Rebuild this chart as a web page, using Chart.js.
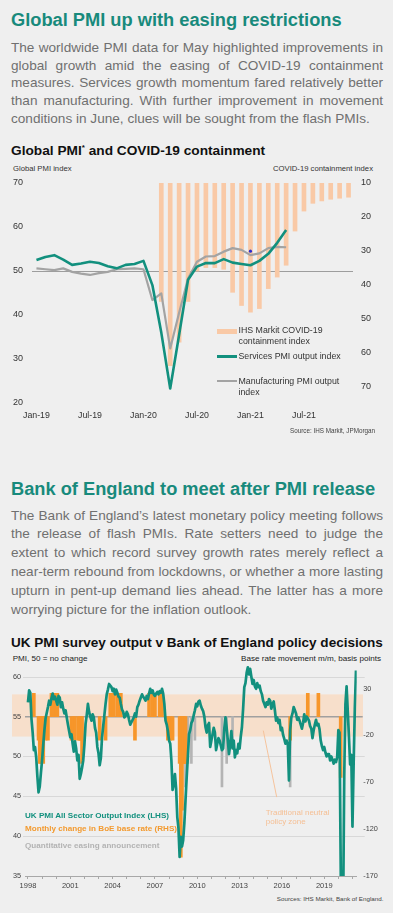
<!DOCTYPE html>
<html>
<head>
<meta charset="utf-8">
<script src="https://cdn.jsdelivr.net/npm/chart.js@4/dist/chart.umd.min.js"></script>
<style>
html,body{margin:0;padding:0;}
body{width:393px;height:913px;background:#efefef;position:relative;overflow:hidden;font-family:"Liberation Sans",Arial,Helvetica,sans-serif;}
.t{position:absolute;white-space:nowrap;}
.title{left:11px;font-weight:bold;font-size:18.25px;line-height:22px;color:#188a7c;}
.para{position:absolute;left:11px;width:372px;font-size:13.6px;color:#707070;}
.para .j{text-align:justify;text-align-last:justify;}
.ctitle{left:11px;font-weight:bold;font-size:13.7px;line-height:16px;color:#111;}
.ctitle sup{font-size:8px;vertical-align:5px;line-height:0;}
.sm{font-size:7.7px;line-height:10px;color:#333;}
.lg{font-size:8.8px;line-height:11px;color:#333;}
.lg2{font-size:8.1px;line-height:10px;font-weight:bold;}
canvas{position:absolute;left:0;}
.sym{position:absolute;}
</style>
</head>
<body>

<div class="t title" style="top:8.5px">Global PMI up with easing restrictions</div>
<div class="para" style="top:38.8px;line-height:17.85px">
  <div class="j">The worldwide PMI data for May highlighted improvements in</div>
  <div class="j">global growth amid the easing of COVID-19 containment</div>
  <div class="j">measures. Services growth momentum fared relatively better</div>
  <div class="j">than manufacturing. With further improvement in movement</div>
  <div>conditions in June, clues will be sought from the flash PMIs.</div>
</div>

<div class="t ctitle" style="top:142.7px">Global PMI<sup>*</sup> and COVID-19 containment</div>
<div class="t sm" style="left:13px;top:164.3px">Global PMI index</div>
<div class="t sm" style="right:20px;top:164.3px">COVID-19 containment index</div>

<canvas id="c1" width="393" height="265" style="top:160px"></canvas>

<div class="sym" style="left:217px;top:328.5px;width:20px;height:5px;background:#f9c9a6"></div>
<div class="t lg" style="left:238.5px;top:325px">IHS Markit COVID-19</div>
<div class="t lg" style="left:238.5px;top:336px">containment index</div>
<div class="sym" style="left:217px;top:355px;width:20px;height:2.5px;background:#12907e"></div>
<div class="t lg" style="left:238.5px;top:350.5px">Services PMI output index</div>
<div class="sym" style="left:217px;top:379.8px;width:20px;height:2.2px;background:#a3a3a3"></div>
<div class="t lg" style="left:238.5px;top:375.5px">Manufacturing PMI output</div>
<div class="t lg" style="left:238.5px;top:386.5px">index</div>
<div class="t" style="right:18px;top:427px;font-size:6.3px;line-height:8px;color:#444">Source: IHS Markit, JPMorgan</div>

<div class="t title" style="top:477.5px">Bank of England to meet after PMI release</div>
<div class="para" style="top:506.5px;line-height:18.95px">
  <div class="j">The Bank of England’s latest monetary policy meeting follows</div>
  <div class="j">the release of flash PMIs. Rate setters need to judge the</div>
  <div class="j">extent to which record survey growth rates merely reflect a</div>
  <div class="j">near-term rebound from lockdowns, or whether a more lasting</div>
  <div class="j">upturn in pent-up demand lies ahead. The latter has a more</div>
  <div>worrying picture for the inflation outlook.</div>
</div>

<div class="t ctitle" style="top:634.7px;font-size:13.55px">UK PMI survey output v Bank of England policy decisions</div>
<div class="t" style="left:12.7px;top:654.3px;font-size:8.1px;line-height:10px;color:#222">PMI, 50 = no change</div>
<div class="t" style="right:12px;top:654.3px;font-size:8.1px;line-height:10px;color:#222">Base rate movement m/m, basis points</div>

<canvas id="c2" width="393" height="245" style="top:650px"></canvas>

<div class="t lg2" style="left:25px;top:811px;color:#12907e">UK PMI All Sector Output Index (LHS)</div>
<div class="t lg2" style="left:25px;top:824.3px;color:#f39a2f">Monthly change in BoE base rate (RHS)</div>
<div class="t lg2" style="left:25px;top:841px;color:#b3b3b3">Quantitative easing announcement</div>
<div class="t" style="left:265.7px;top:807.5px;font-size:8px;line-height:9px;color:#f5bf94">Traditional neutral</div>
<div class="t" style="left:265.7px;top:816.5px;font-size:8px;line-height:9px;color:#f5bf94">policy zone</div>
<div class="t" style="right:9.5px;top:895.3px;font-size:6.25px;line-height:8px;color:#444">Sources: IHS Markit, Bank of England.</div>

<script>
// ================= DATA: chart 1 (global PMI vs COVID-19 containment) =================
const months1 = ['Jan-19','Feb-19','Mar-19','Apr-19','May-19','Jun-19','Jul-19','Aug-19','Sep-19','Oct-19','Nov-19','Dec-19',
                 'Jan-20','Feb-20','Mar-20','Apr-20','May-20','Jun-20','Jul-20','Aug-20','Sep-20','Oct-20','Nov-20','Dec-20',
                 'Jan-21','Feb-21','Mar-21','Apr-21','May-21','Jun-21','Jul-21','Aug-21','Sep-21','Oct-21','Nov-21','Dec-21'];
const servicesPMI = [52.5,53.2,53.6,52.6,51.4,51.7,52.1,51.8,51.1,50.6,51.4,51.6,
                     52.3,46.8,36.0,23.3,35.5,48.0,51.0,51.8,51.8,52.7,51.9,51.6,
                     51.3,52.3,53.9,56.4,59.3,null,null,null,null,null,null,null];
const manufacturingPMI = [50.6,50.4,50.2,50.6,49.8,49.4,49.1,49.5,49.8,50.4,50.5,50.6,
                          50.4,43.4,44.9,32.4,40.5,48.3,52.1,53.3,53.4,54.4,55.2,54.8,
                          53.6,54.0,55.2,55.5,55.4,null,null,null,null,null,null,null];
const containmentIndex = [null,null,null,null,null,null,null,null,null,null,null,null,
                          null,null,45,64,57,45,36,35,35,35.5,42.3,46.2,
                          48.2,47.1,41.2,37.8,34.3,24.2,18.3,16.0,15.3,14.8,14.5,14.2];
const pointMarker = [null,null,null,null,null,null,null,null,null,null,null,null,
                     null,null,null,null,null,null,null,null,null,null,null,null,
                     54.5,null,null,null,null,null,null,null,null,null,null,null];
const pmiTicks1 = [20,30,40,50,60,70];
const containmentTicks = [10,20,30,40,50,60,70];
const containmentAxisRange = [10,75];
const pmiReferenceLevel = 50;

// ================= DATA: chart 2 (UK PMI vs BoE decisions) =================
const ukPmiStart = '1998-01';
const ukPmiAllSector = [
 56.8,58.3,58.0,54.7,53.0,50.8,51.2,49.9,47.5,45.5,46.2,47.9, // 1998
 49.5,51.5,53.3,54.8,55.5,56.2,57.0,56.5,57.3,57.9,57.2,57.5, // 1999
 57.0,56.5,57.6,57.4,56.2,56.8,56.0,55.4,55.8,54.9,54.0,53.2, // 2000
 52.4,52.8,51.6,50.6,51.9,51.0,49.5,50.2,47.2,47.8,48.6,49.5, // 2001
 51.5,54.1,55.2,56.6,55.6,55.0,54.5,55.3,54.9,53.6,53.0,51.2, // 2002
 50.4,48.9,49.8,52.4,53.8,55.2,56.6,57.8,58.4,59.1,58.9,58.7, // 2003
 58.2,58.5,57.8,58.4,58.0,57.5,57.4,56.6,55.9,55.6,54.9,55.1, // 2004
 55.6,55.3,54.6,54.0,54.3,54.6,54.9,55.4,55.0,56.2,56.5,57.0, // 2005
 57.4,57.8,57.5,57.3,57.0,57.6,57.2,57.9,58.5,58.0,58.3,57.8, // 2006
 57.6,57.9,58.1,57.8,58.2,58.0,58.5,57.9,56.6,54.5,54.0,53.2, // 2007
 52.0,51.6,49.5,45.8,46.5,47.8,46.0,42.4,41.0,37.4,39.9,38.7, // 2008
 39.5,41.6,44.5,47.4,50.0,52.8,53.3,54.2,54.5,55.2,55.8,56.6, // 2009
 56.3,56.9,57.0,56.4,56.0,55.7,55.0,53.7,53.0,53.9,54.2,51.2, // 2010
 52.0,52.8,53.6,53.0,50.8,51.6,52.3,52.0,51.4,50.8,51.0,53.5, // 2011
 54.9,53.6,52.0,50.3,51.5,53.2,51.0,52.0,49.9,50.8,50.4,51.6, // 2012
 51.0,52.5,53.7,56.0,58.7,59.2,60.5,61.2,60.3,61.0,60.0,59.1, // 2013
 59.6,58.8,58.5,59.2,58.7,58.9,58.2,57.8,57.0,56.6,56.2,56.8, // 2014
 56.5,57.2,57.0,56.0,56.6,56.9,55.8,54.5,54.9,54.2,54.6,53.3, // 2015
 53.6,52.7,52.2,51.6,52.0,51.5,47.0,53.3,54.9,55.4,56.2,55.8, // 2016
 55.4,54.6,54.9,54.5,54.0,53.5,54.2,55.3,54.4,55.0,54.8,54.5, // 2017
 53.8,53.5,52.3,53.3,54.0,54.6,53.9,54.1,53.4,52.0,51.3,50.8, // 2018
 51.2,50.5,50.0,50.3,50.3,49.5,50.0,49.6,49.1,49.6,49.3,49.9, // 2019
 53.3,53.0,36.2,13.8,29.5,47.5,56.5,58.8,55.7,52.5,49.0,50.2, // 2020
 41.2,49.1,56.0,60.8                                          // 2021
];
const rateChangeMonths = ['1998-06','1998-10','1998-11','1998-12','1999-01','1999-02','1999-04','1999-06','1999-09','1999-11',
  '2000-01','2000-02','2001-02','2001-04','2001-05','2001-08','2001-09','2001-10','2001-11','2003-02','2003-07','2003-11',
  '2004-02','2004-05','2004-06','2004-08','2005-08','2006-08','2006-11','2007-01','2007-05','2007-07','2007-12','2008-02',
  '2008-04','2008-10','2008-11','2008-12','2009-01','2009-02','2009-03','2016-08','2017-11','2018-08','2020-03'];
const rateChangeBp = [25,-25,-50,-50,-25,-50,-25,-25,25,25,
  25,25,-25,-25,-25,-25,-25,-25,-50,-25,-25,25,
  25,25,25,25,-25,25,25,25,25,25,-25,-25,
  -25,-50,-150,-100,-50,-50,-50,-25,25,25,-65];
const qeMonths = ['2009-03','2009-05','2009-08','2009-11','2011-10','2012-02','2012-07','2016-08','2020-03'];
const qeBarBp  = [-75,-50,-50,-25,-75,-50,-25,-75,-25];
const yearTicks2 = [1998,1999,2000,2001,2002,2003,2004,2005,2006,2007,2008,2009,2010,2011,2012,2013,2014,2015,2016,2017,2018,2019,2020,2021];
const yearLabels2 = [1998,2001,2004,2007,2010,2013,2016,2019];
const pmiTicks2 = [35,40,45,50,55,60];
const pmiGridLines2 = [40,45,50,60];
const bpTicks2 = [-170,-120,-70,-20,30];
const pmiRange2 = [35,62];
const pmiNeutral = 55;            // PMI level matching 0 bp
const bpPerPmiPoint = 50/5.875;   // right-axis scaling
const neutralZonePmi = [52.5,57.8];
const annotationLine = [[2014.68,53.25],[2015.63,44.9]];
const xRange2 = [1997.79,2021.3];

// ================= helpers =================
const FONT = "'Liberation Sans', Arial, Helvetica, sans-serif";
const ym = s => { const [y,m] = s.split('-').map(Number); return y + (m-1)/12; };
Chart.defaults.font.family = FONT;

// ================= Chart 1 =================
new Chart(document.getElementById('c1'), {
  data: {
    labels: months1,
    datasets: [
      {type:'line', data: pointMarker, yAxisID:'y', showLine:false, pointRadius:1.6, pointBackgroundColor:'#2a2ad0', pointBorderWidth:0, order:0},
      {type:'line', label:'Services PMI output index', data: servicesPMI, yAxisID:'y', borderColor:'#12907e', borderWidth:2.6, pointRadius:0, borderJoinStyle:'round', order:1},
      {type:'line', label:'Manufacturing PMI output index', data: manufacturingPMI, yAxisID:'y', borderColor:'#a3a3a3', borderWidth:2.2, pointRadius:0, borderJoinStyle:'round', order:2},
      {type:'bar', label:'IHS Markit COVID-19 containment index', data: containmentIndex.map(v => v == null ? null : [containmentAxisRange[0], v]), yAxisID:'y2', backgroundColor:'#f9c9a6', barThickness:4, order:3}
    ]
  },
  options: {
    responsive:false, animation:false, devicePixelRatio:1,
    layout:{padding:{top:23,left:0,right:0,bottom:0}},
    plugins:{legend:{display:false}, tooltip:{enabled:false}},
    scales:{
      x:{type:'category', offset:true,
         grid:{display:false, drawTicks:false}, border:{display:false},
         ticks:{autoSkip:false, maxRotation:0, padding:7, color:'#333', font:{size:8.8},
                callback:(v,i) => (i % 6 === 0 ? months1[i] : null)},
         afterFit:s => { s.height = 22; }},
      y:{position:'left', min:pmiTicks1[0], max:pmiTicks1[pmiTicks1.length-1],
         afterBuildTicks:s => { s.ticks = pmiTicks1.map(v => ({value:v})); },
         ticks:{padding:9, color:'#333', font:{size:9}},
         grid:{drawTicks:false, lineWidth:1, color:c => (c.tick && c.tick.value === pmiReferenceLevel ? '#9d9d9d' : 'rgba(0,0,0,0)')},
         border:{display:false},
         afterFit:s => { s.width = 32; }},
      y2:{position:'right', reverse:true, min:containmentAxisRange[0], max:containmentAxisRange[1],
         afterBuildTicks:s => { s.ticks = containmentTicks.map(v => ({value:v})); },
         ticks:{padding:8, color:'#333', font:{size:9}},
         grid:{display:false, drawTicks:false}, border:{display:false},
         afterFit:s => { s.width = 40; }}
    }
  }
});

// ================= Chart 2 =================
const pmiPoints = ukPmiAllSector.map((v,i) => ({x: ym(ukPmiStart) + i/12, y: v}));
const ratePoints = rateChangeMonths.map((m,i) => ({x: ym(m), y: rateChangeBp[i]}));
const qePoints = qeMonths.map((m,i) => ({x: ym(m), y: qeBarBp[i]}));

const zonePlugin = {
  id:'zone',
  beforeDraw(chart){
    const {ctx, chartArea, scales} = chart;
    const y = scales.y;
    const top = y.getPixelForValue(neutralZonePmi[1]);
    const bot = y.getPixelForValue(neutralZonePmi[0]);
    ctx.save();
    ctx.fillStyle = '#f7dfcb';
    ctx.fillRect(12, top, 363 - 12, bot - top);
    ctx.strokeStyle = '#d8d8d8'; ctx.lineWidth = 1;
    pmiGridLines2.forEach(v => {
      const py = Math.round(y.getPixelForValue(v)) + 0.5;
      ctx.beginPath(); ctx.moveTo(chartArea.left - 2, py); ctx.lineTo(chartArea.right + 8, py); ctx.stroke();
    });
    ctx.restore();
  },
  beforeDatasetsDraw(chart){
    const {ctx, chartArea, scales} = chart;
    const py = scales.y2.getPixelForValue(0);
    ctx.save();
    ctx.strokeStyle = '#a0a0a0'; ctx.lineWidth = 1.5;
    ctx.beginPath(); ctx.moveTo(chartArea.left, py); ctx.lineTo(chartArea.right + 6, py); ctx.stroke();
    ctx.strokeStyle = '#f5c39c'; ctx.lineWidth = 1;
    ctx.beginPath();
    ctx.moveTo(scales.x.getPixelForValue(annotationLine[0][0]), scales.y.getPixelForValue(annotationLine[0][1]));
    ctx.lineTo(scales.x.getPixelForValue(annotationLine[1][0]), scales.y.getPixelForValue(annotationLine[1][1]));
    ctx.stroke();
    ctx.restore();
  }
};

new Chart(document.getElementById('c2'), {
  data: {
    datasets: [
      {type:'line', label:'UK PMI All Sector Output Index (LHS)', data: pmiPoints, xAxisID:'x', yAxisID:'y', borderColor:'#12907e', borderWidth:2.7, pointRadius:0, borderJoinStyle:'round', order:0},
      {type:'bar', label:'Monthly change in BoE base rate (RHS)', data: ratePoints, xAxisID:'x', yAxisID:'y2', backgroundColor:'#f7962a', barThickness:3, grouped:false, order:1},
      {type:'bar', label:'Quantitative easing announcement', data: qePoints, xAxisID:'x', yAxisID:'y2', backgroundColor:'#b4b4b4', barThickness:2, grouped:false, order:2}
    ]
  },
  plugins:[zonePlugin],
  options: {
    responsive:false, animation:false, devicePixelRatio:1,
    layout:{padding:{top:10,left:0,right:0,bottom:0}},
    plugins:{legend:{display:false}, tooltip:{enabled:false}},
    scales:{
      x:{type:'linear', offset:false, min:xRange2[0], max:xRange2[1],
         afterBuildTicks:s => { s.ticks = yearTicks2.map(v => ({value:v})); },
         ticks:{autoSkip:false, maxRotation:0, padding:2, color:'#444', font:{size:7.5},
                callback:v => (yearLabels2.includes(v) ? String(v) : '')},
         grid:{drawOnChartArea:false, drawTicks:true, tickLength:3, color:'#a8a8a8', offset:false},
         border:{display:true, color:'#a8a8a8'},
         afterFit:s => { s.height = 19; }},
      y:{position:'left', min:pmiRange2[0], max:pmiRange2[1],
         afterBuildTicks:s => { s.ticks = pmiTicks2.map(v => ({value:v})); },
         ticks:{padding:4, color:'#444', font:{size:7.3}},
         grid:{display:false, drawTicks:false}, border:{display:false},
         afterFit:s => { s.width = 25; }},
      y2:{position:'right',
         min:(pmiRange2[0] - pmiNeutral) * bpPerPmiPoint, max:(pmiRange2[1] - pmiNeutral) * bpPerPmiPoint,
         afterBuildTicks:s => { s.ticks = bpTicks2.map(v => ({value:v})); },
         ticks:{padding:6.5, color:'#444', font:{size:7.3}},
         grid:{display:false, drawTicks:false}, border:{display:false},
         afterFit:s => { s.width = 36.3; }}
    }
  }
});
</script>
</body>
</html>
